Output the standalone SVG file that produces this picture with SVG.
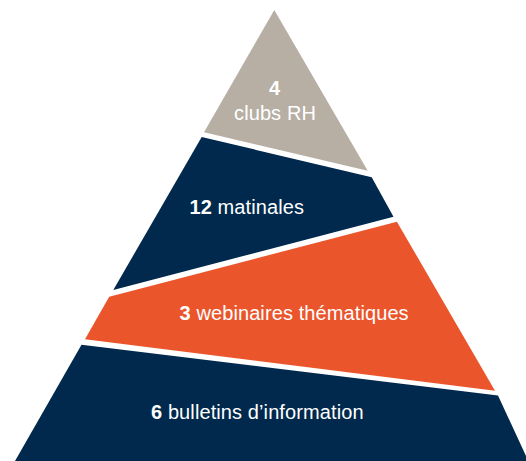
<svg xmlns="http://www.w3.org/2000/svg" width="526" height="461" viewBox="0 0 526 461">
<style>
.grey{fill:#b7afa4}
.navy{fill:#00294d}
.orange{fill:#eb552b}
.lbl{font-family:"Liberation Sans",Arial,Helvetica,sans-serif;font-size:20px;fill:#ffffff;letter-spacing:0.1px}
.num{font-weight:bold}
</style>
<rect width="526" height="461" fill="#ffffff"/>
<g id="level-1">
<polygon class="grey" points="274.3,10 204,132.3 367.7,170.7"/>
<text class="lbl num" x="274.5" y="94.5" text-anchor="middle">4</text>
<text class="lbl" x="275" y="120" text-anchor="middle">clubs RH</text>
</g>
<g id="level-2">
<polygon class="navy" points="201.7,137 371.7,177.3 393.5,216.7 113.3,290"/>
<text class="lbl" x="189.5" y="213.5"><tspan class="num">12</tspan> matinales</text>
</g>
<g id="level-3">
<polygon class="orange" points="109.2,296.7 396.9,221.7 495,390.7 85,339.3"/>
<text class="lbl" x="179.5" y="320"><tspan class="num">3</tspan> webinaires thématiques</text>
</g>
<g id="level-4">
<polygon class="navy" points="81.5,344.8 498,395.5 526,456 526,461 15,461"/>
<text class="lbl" x="151" y="419"><tspan class="num">6</tspan> bulletins d’information</text>
</g>
<g id="connectors"/>
</svg>
